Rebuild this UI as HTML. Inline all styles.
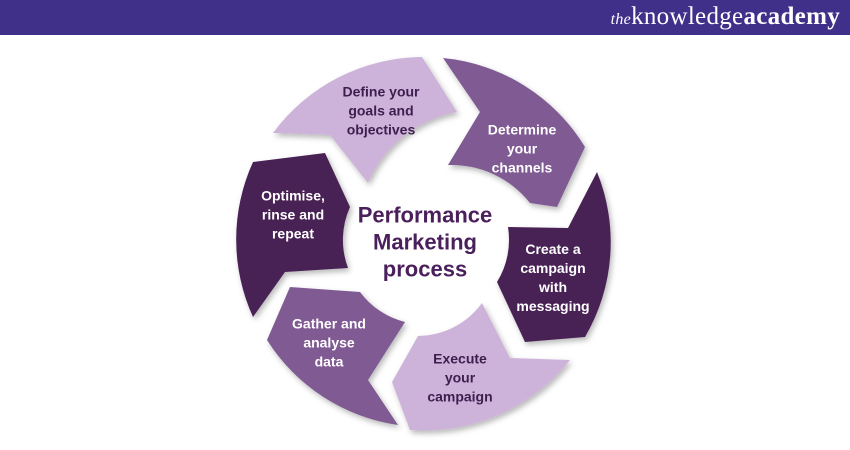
<!DOCTYPE html>
<html><head><meta charset="utf-8"><style>
body{margin:0;width:850px;height:450px;background:#fff;overflow:hidden;font-family:"Liberation Sans",sans-serif;position:relative}
.hdr{position:absolute;left:0;top:0;width:850px;height:35px;background:#40308a}
.logo{position:absolute;right:10px;top:3px;color:#fff;font-family:"Liberation Serif",serif;font-size:25px;letter-spacing:0.3px}
.logo i{font-size:16px}
.t{position:absolute;width:140px;text-align:center;font-size:14px;font-weight:bold;line-height:19px;transform:translate(-50%,-50%)}
.w{color:#fff}.d{color:#3d1f4e}
.c{position:absolute;left:425px;top:242px;transform:translate(-50%,-50%);text-align:center;font-weight:bold;font-size:22px;line-height:27px;color:#4a1f5c;width:170px}
</style></head><body>
<div class="hdr"><div class="logo"><i>the</i>knowledge<b>academy</b></div></div>
<svg width="850" height="450" style="position:absolute;left:0;top:0">
<defs><filter id="sh" x="-20%" y="-20%" width="140%" height="140%"><feDropShadow dx="2" dy="3" stdDeviation="3" flood-color="#000" flood-opacity="0.28"/></filter></defs>
<g filter="url(#sh)">
<path fill="#cdb3da" d="M273,133 A187,187 0 0 1 422,57 L457,112 A120,120 0 0 0 368,183 L330,135 Z"/>
<path fill="#7f5a93" d="M443,58 A187,187 0 0 1 585,147 L557,207 L530,203 A100,100 0 0 0 448,165 L480,112 Z"/>
<path fill="#4a2155" d="M597,172 A187,187 0 0 1 585,337 L525,342 L497,282 A80,80 0 0 0 508,227 L568,228 Z"/>
<path fill="#cdb3da" d="M570,360 A187,187 0 0 1 410,430 L392,382 L418,336 A80,80 0 0 0 482,303 L510,358 Z"/>
<path fill="#7f5a93" d="M398,425 A187,187 0 0 1 267,340 L290,287 L360,292 A80,80 0 0 0 405,322 L368,380 Z"/>
<path fill="#4a2155" d="M253,317 A187,187 0 0 1 253,162 L325,153 L350,207 A80,80 0 0 0 348,268 L285,272 Z"/>
</g>
</svg>
<div class="t d" style="left:381px;top:111px">Define your<br>goals and<br>objectives</div>
<div class="t w" style="left:522px;top:149px">Determine<br>your<br>channels</div>
<div class="t w" style="left:553px;top:278px">Create a<br>campaign<br>with<br>messaging</div>
<div class="t d" style="left:460px;top:378px">Execute<br>your<br>campaign</div>
<div class="t w" style="left:329px;top:343px">Gather and<br>analyse<br>data</div>
<div class="t w" style="left:293px;top:215px">Optimise,<br>rinse and<br>repeat</div>
<div class="c">Performance<br>Marketing<br>process</div>
</body></html>
